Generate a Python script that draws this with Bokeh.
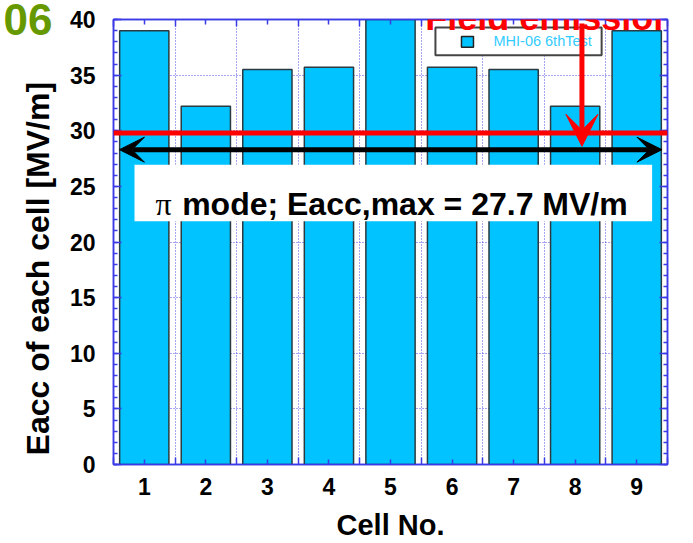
from bokeh.plotting import figure
from bokeh.models import (Range1d, LinearAxis, FixedTicker, Span, Arrow, VeeHead,
                          BoxAnnotation, Label, ColumnDataSource)
from bokeh.embed import file_html
from bokeh.resources import INLINE

# ---------------- data ----------------
cells = [1, 2, 3, 4, 5, 6, 7, 8, 9]
eacc = [39.0, 32.2, 35.5, 35.7, 41.0, 35.7, 35.5, 32.2, 39.0]
x_tick_labels = ["1", "2", "3", "4", "5", "6", "7", "8", "9"]
y_ticks = [0, 5, 10, 15, 20, 25, 30, 35, 40]
series_name = "MHI-06 6thTest"
field_emission_level = 29.8      # red horizontal line
eacc_max_level = 28.3            # black double arrow
field_emission_cell = 8.11       # red vertical arrow position
annotation_text = "mode; Eacc,max = 27.7 MV/m"
y_title = "Eacc of each cell  [MV/m]"
x_title = "Cell No."
corner_text = "06"

# ---------------- styles ----------------
BLUE = "#3a3ae6"
BAR = "#00c3ff"
FONT = "Liberation Sans"

p = figure(width=693, height=543, x_range=Range1d(0.5, 9.5), y_range=Range1d(0, 40),
           output_backend="svg", toolbar_location=None,
           min_border_left=113, min_border_right=26, min_border_top=19, min_border_bottom=72)
p.background_fill_color = "white"
p.border_fill_color = "white"
p.outline_line_color = BLUE
p.outline_line_width = 1.5

src = ColumnDataSource(dict(x=cells, top=eacc))
p.vbar(x="x", top="top", width=0.8, bottom=0, source=src, fill_color=BAR,
       line_color="#2a3a40", line_width=1.5)

# grids
p.xgrid.ticker = FixedTicker(ticks=[c + 0.5 for c in cells[:-1]])
p.ygrid.ticker = FixedTicker(ticks=y_ticks[1:-1])
for g in (p.xgrid, p.ygrid):
    g.grid_line_color = BLUE
    g.grid_line_dash = "1 2"
    g.grid_line_width = 1
    g.grid_line_alpha = 0.9

def style_axis(ax, major, minor, major_in, minor_in, labels=True):
    ax.ticker = FixedTicker(ticks=major, minor_ticks=minor)
    ax.axis_line_color = BLUE
    ax.axis_line_width = 1.5
    ax.major_tick_line_color = BLUE
    ax.major_tick_line_width = 1.5
    ax.minor_tick_line_color = BLUE
    ax.minor_tick_line_width = 1.5
    ax.major_tick_in = major_in
    ax.major_tick_out = 0
    ax.minor_tick_in = minor_in
    ax.minor_tick_out = 0
    if labels:
        ax.major_label_text_font = FONT
        ax.major_label_text_font_style = "bold"
        ax.major_label_text_font_size = "23px"
        ax.major_label_text_color = "black"
    else:
        ax.major_label_text_font_size = "0px"
        ax.major_label_standoff = 0

x_minor = [c - 0.5 for c in cells] + [cells[-1] + 0.5]
y_minor = list(range(0, 41))

xb = p.xaxis[0]
style_axis(xb, cells, x_minor, 5, 7)
xb.major_label_overrides = {c: t for c, t in zip(cells, x_tick_labels)}
xb.major_label_standoff = 13
xb.axis_label = x_title
xb.axis_label_text_font = FONT
xb.axis_label_text_font_style = "bold"
xb.axis_label_text_font_size = "29px"
xb.axis_label_text_color = "black"
xb.axis_label_standoff = 11

yl = p.yaxis[0]
style_axis(yl, y_ticks, y_minor, 8, 4)
yl.major_label_standoff = 18
# trailing no-break spaces shift the visible title down a little, as in the original
yl.axis_label = y_title + "\u00a0" * 5
yl.axis_label_text_font = FONT
yl.axis_label_text_font_style = "bold"
yl.axis_label_text_font_size = "32px"
yl.axis_label_text_color = "black"
yl.axis_label_standoff = 11

top_ax = LinearAxis()
style_axis(top_ax, cells, x_minor, 5, 7, labels=False)
p.add_layout(top_ax, "above")
right_ax = LinearAxis()
style_axis(right_ax, y_ticks, y_minor, 8, 4, labels=False)
p.add_layout(right_ax, "right")

# green "06" remnant at the top-left corner (outer left axis carrying one label)
p.extra_y_ranges = {"corner": Range1d(0, 40)}
ax06 = LinearAxis(y_range_name="corner", ticker=FixedTicker(ticks=[40]),
                  major_label_overrides={40: corner_text},
                  axis_line_color=None, major_tick_line_color=None,
                  minor_tick_line_color=None, major_tick_in=0, major_tick_out=0,
                  minor_tick_in=0, minor_tick_out=0,
                  major_label_text_font=FONT, major_label_text_font_style="bold",
                  major_label_text_font_size="44px", major_label_text_color="#669900",
                  major_label_standoff=-36)
p.add_layout(ax06, "left")

# red horizontal line
p.add_layout(Span(location=field_emission_level, dimension="width", line_color="#ff0000",
                  line_width=5))

# annotation box + text
p.add_layout(BoxAnnotation(left=0.841, right=9.25, bottom=21.86, top=26.94,
                           fill_color="white", fill_alpha=1.0, line_color=None))
p.add_layout(Label(x=1.182, y=23.39, text="\u03c0", text_align="left",
                   text_baseline="alphabetic", text_font="Liberation Serif",
                   text_font_size="32px", text_color="black"))
p.add_layout(Label(x=1.615, y=23.39, text=annotation_text, text_align="left",
                   text_baseline="alphabetic", text_font=FONT, text_font_style="bold",
                   text_font_size="32px", text_color="black"))

# legend (drawn manually)
p.add_layout(BoxAnnotation(left=5.73, right=8.43, bottom=36.79, top=39.27,
                           fill_color="white", fill_alpha=1.0, line_color="#444444",
                           line_alpha=1.0, line_width=2))
p.add_layout(BoxAnnotation(left=6.153, right=6.348, bottom=37.5, top=38.48,
                           fill_color=BAR, fill_alpha=1.0, line_color="#222222",
                           line_alpha=1.0, line_width=1.5))
p.add_layout(Label(x=6.673, y=38.1, text=series_name, text_align="left",
                   text_baseline="middle", text_font=FONT, text_font_size="14.5px",
                   text_color="#33ccff"))

# red vertical arrow
p.add_layout(Arrow(end=VeeHead(size=32, fill_color="#ff0000", line_color="#ff0000"),
                   x_start=field_emission_cell, y_start=39.65,
                   x_end=field_emission_cell, y_end=28.6,
                   line_color="#ff0000", line_width=5))

# black double arrow
p.add_layout(Arrow(start=VeeHead(size=25, fill_color="black", line_color="black"),
                   end=VeeHead(size=25, fill_color="black", line_color="black"),
                   x_start=0.597, y_start=eacc_max_level, x_end=9.41, y_end=eacc_max_level,
                   line_color="black", line_width=5))

# "Field emission" caption above the frame
p.add_layout(Label(x=7.594, y=40.2, text="Field emission", text_align="center",
                   text_baseline="alphabetic", text_font=FONT, text_font_style="bold",
                   text_font_size="36px", text_color="#ff0000"))

open("out.html", "w").write(file_html(p, INLINE))
